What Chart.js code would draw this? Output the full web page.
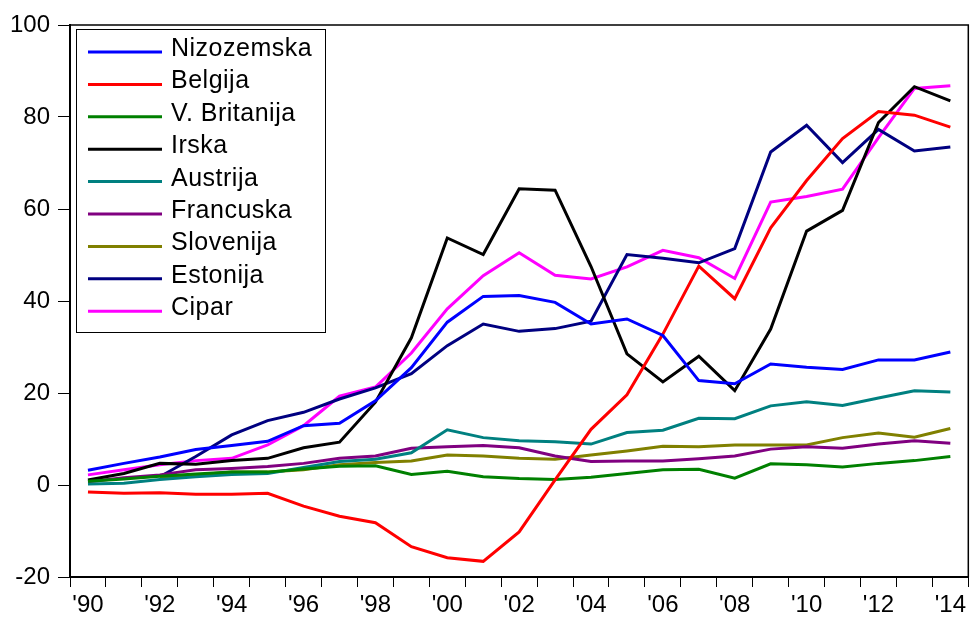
<!DOCTYPE html>
<html>
<head>
<meta charset="utf-8">
<script src="https://cdn.jsdelivr.net/npm/chart.js@4.4.1/dist/chart.umd.min.js"></script>
<style>
  body { margin: 0; background: #fff; }
  #grafikon { display: block; }
</style>
</head>
<body>
<canvas id="grafikon" width="970" height="619"></canvas>
<script>
const godine = ['1990','1991','1992','1993','1994','1995','1996','1997','1998','1999','2000','2001','2002',
  '2003','2004','2005','2006','2007','2008','2009','2010','2011','2012','2013','2014']
const oznakeX = ["'90","","'92","","'94","","'96","","'98","","'00","","'02","","'04","","'06","","'08","","'10","","'12","","'14"]
const oznakeY = [-20, 0, 20, 40, 60, 80, 100]

const nizozemska = [3.2,4.7,6.1,7.7,8.6,9.5,12.9,13.4,18.3,25.5,35.4,41.0,41.2,39.7,35.0,36.1,32.5,22.7,22.0,26.3,25.6,25.1,27.2,27.2,28.9]
const belgija = [-1.5,-1.8,-1.7,-2.0,-2.0,-1.8,-4.6,-6.8,-8.2,-13.4,-15.8,-16.6,-10.2,1.1,12.1,19.6,32.8,47.6,40.5,55.9,66.2,75.3,81.2,80.4,77.8]
const vBritanija = [0.8,1.3,1.9,2.4,2.8,2.8,3.5,4.1,4.2,2.3,3.0,1.8,1.4,1.2,1.7,2.5,3.3,3.4,1.5,4.6,4.4,3.9,4.7,5.3,6.2]
const irska = [1.1,2.5,4.7,4.5,5.3,5.8,8.1,9.3,18.0,32.0,53.7,50.1,64.4,64.1,47.5,28.5,22.4,28.0,20.5,33.9,55.2,59.7,78.8,86.6,83.5]
const austrija = [0.2,0.4,1.2,1.8,2.3,2.5,3.8,5.1,5.6,7.0,12.0,10.3,9.6,9.4,8.9,11.4,11.9,14.5,14.4,17.2,18.1,17.3,18.9,20.5,20.2]
const francuska = [0.7,1.6,2.2,3.3,3.6,4.0,4.7,5.8,6.3,8.0,8.3,8.6,8.1,6.3,5.1,5.2,5.2,5.7,6.3,7.8,8.3,8.0,8.9,9.6,9.1]
const slovenija = [null,null,1.5,2.2,2.8,2.8,3.3,4.4,4.9,5.2,6.5,6.3,5.8,5.6,6.5,7.4,8.4,8.3,8.7,8.7,8.7,10.3,11.3,10.4,12.3]
const estonija = [null,null,1.8,6.2,10.9,14.0,15.8,18.7,21.1,24.2,30.3,35.0,33.4,34.0,35.6,50.1,49.3,48.3,51.4,72.4,78.2,70.1,77.3,72.6,73.5]
const cipar = [2.2,3.3,4.4,5.3,5.8,8.7,12.9,19.3,21.3,28.7,38.3,45.5,50.5,45.6,44.8,47.4,51.0,49.4,44.9,61.5,62.7,64.3,75.5,86.2,86.8]

const zemlje = ['Nizozemska','Belgija','V. Britanija','Irska','Austrija','Francuska','Slovenija','Estonija','Cipar']
const boje = ['#0000ff','#ff0000','#008000','#000000','#008080','#800080','#808000','#000080','#ff00ff']
const serije = [nizozemska, belgija, vBritanija, irska, austrija, francuska, slovenija, estonija, cipar]

const font = 'Liberation Sans, Arial, Helvetica, sans-serif'

// okvir oko grafa (gore i desno)
const okvir = {
  id: 'okvir',
  afterDraw(chart){
    const a = chart.chartArea
    const ctx = chart.ctx
    ctx.save()
    ctx.strokeStyle = '#000'
    ctx.lineWidth = 1.5
    ctx.beginPath()
    ctx.moveTo(a.left, a.top)
    ctx.lineTo(a.right, a.top)
    ctx.lineTo(a.right, a.bottom)
    ctx.stroke()
    ctx.restore()
  }
}

// legenda unutar grafa, lijevo gore
const legenda = {
  id: 'legenda',
  afterDraw(chart){
    const a = chart.chartArea
    const ctx = chart.ctx
    const x = a.left + 6
    const y = a.top + 4
    ctx.save()
    ctx.fillStyle = '#fff'
    ctx.fillRect(x, y, 249, 303)
    ctx.strokeStyle = '#000'
    ctx.lineWidth = 1
    ctx.strokeRect(x + 0.5, y + 0.5, 249, 303)
    ctx.font = '25px ' + font
    ctx.letterSpacing = '0.5px'
    ctx.textBaseline = 'alphabetic'
    chart.data.datasets.forEach((ds, i) => {
      const ly = y + 23 + i * 32.4
      ctx.strokeStyle = ds.borderColor
      ctx.lineWidth = 3
      ctx.beginPath()
      ctx.moveTo(x + 12, ly)
      ctx.lineTo(x + 86, ly)
      ctx.stroke()
      ctx.fillStyle = '#000'
      ctx.fillText(ds.label, x + 95, ly + 4)
    })
    ctx.restore()
  }
}

const datasets = zemlje.map((z, i) => ({
  label: z,
  data: serije[i],
  borderColor: boje[i],
  backgroundColor: boje[i],
  borderWidth: 3,
  pointRadius: 0,
  tension: 0,
  fill: false
}))

const chart = new Chart(document.getElementById('grafikon'), {
  type: 'line',
  data: { labels: godine, datasets: datasets },
  plugins: [okvir, legenda],
  options: {
    responsive: false,
    devicePixelRatio: 1,
    animation: false,
    layout: { padding: { top: 25, right: 1, left: 0, bottom: 0 } },
    plugins: { legend: { display: false }, tooltip: { enabled: false } },
    scales: {
      x: {
        type: 'category',
        offset: true,
        afterFit(s){ s.height = 42 },
        grid: { offset: true, drawOnChartArea: false, drawTicks: true, tickLength: 10, color: '#000', lineWidth: 1 },
        border: { color: '#000', width: 2 },
        ticks: {
          autoSkip: false, maxRotation: 0, color: '#000', padding: 4,
          font: { family: font, size: 24 },
          callback: (v, i) => oznakeX[i]
        }
      },
      y: {
        min: oznakeY[0],
        max: oznakeY[oznakeY.length - 1],
        afterFit(s){ s.width = 70 },
        afterBuildTicks(s){ s.ticks = oznakeY.map(v => ({ value: v })) },
        grid: { drawOnChartArea: false, drawTicks: true, tickLength: 12, color: '#000', lineWidth: 1 },
        border: { color: '#000', width: 2 },
        ticks: { color: '#000', padding: 8, font: { family: font, size: 24 } }
      }
    }
  }
})
</script>
</body>
</html>
